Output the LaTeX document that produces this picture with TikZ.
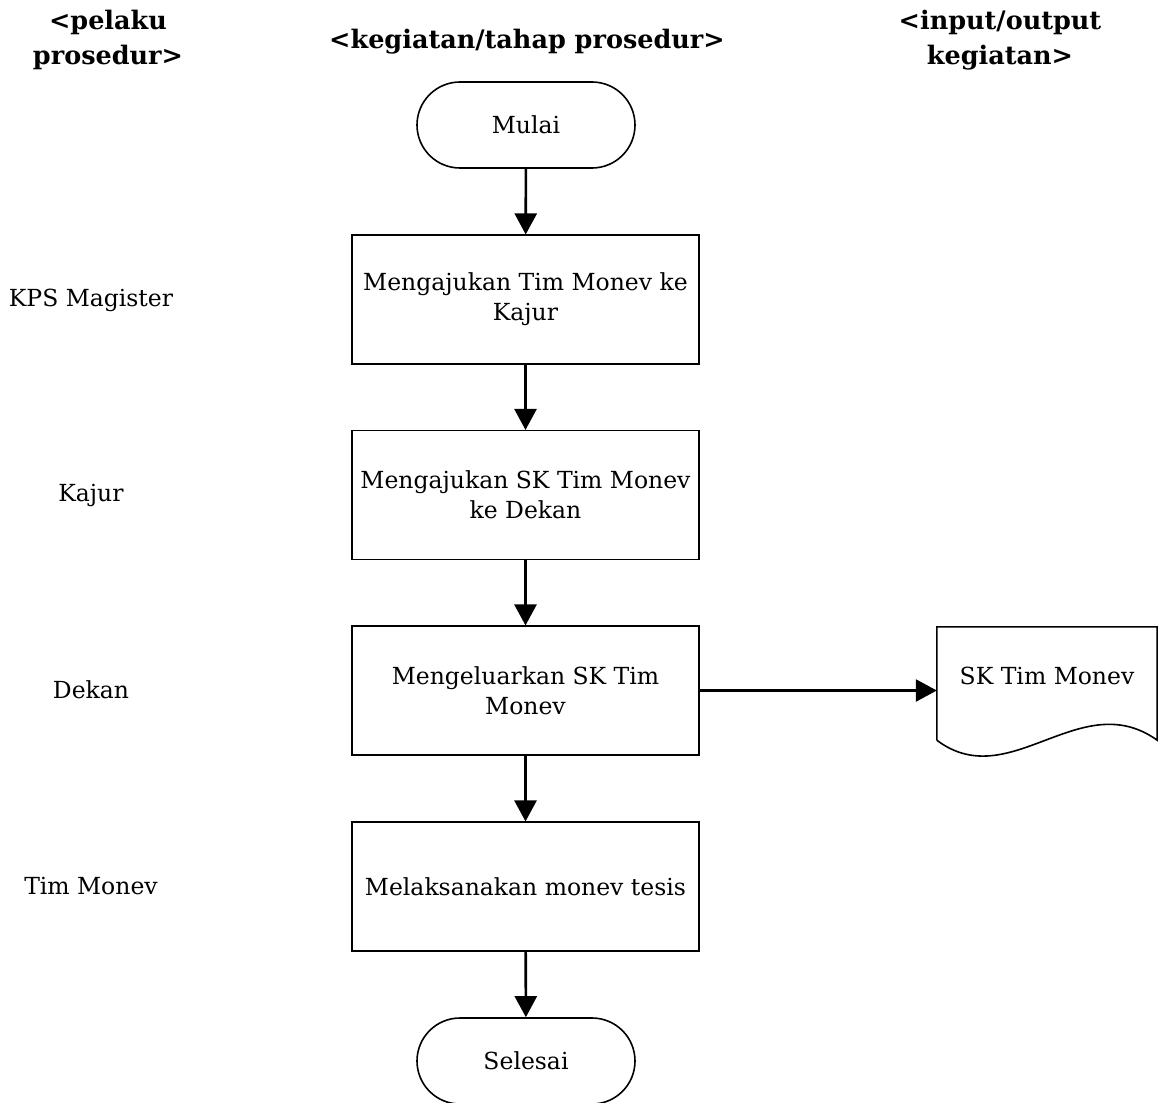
\documentclass[tikz,border=0pt]{standalone}
\usepackage{fontspec}
\setmainfont{DejaVu Serif}
\usetikzlibrary{arrows.meta}
\begin{document}
\begin{tikzpicture}[x=1pt,y=-1pt,
  every node/.style={font=\fontsize{23.5}{30}\selectfont, align=center, inner sep=0pt},
  hdr/.style={font=\fontsize{25.5}{35}\selectfont\bfseries},
  actor/.style={},
  proc/.style={draw, line width=1.1pt, minimum width=347pt, minimum height=129pt},
  term/.style={draw, line width=1.6pt, rounded corners=43pt, minimum width=218pt, minimum height=86pt},
  docshape/.style={minimum width=220pt, minimum height=113pt},
  flow/.style={line width=2.6pt, -{Triangle[length=21pt,width=22pt]}}
]
\useasboundingbox (0,0) rectangle (1158,1102);

\node[hdr] (h1) at (108,40) {<pelaku\\prosedur>};
\node[hdr] (h2) at (527,42) {<kegiatan/tahap prosedur>};
\node[hdr] (h3) at (1000,40) {<input/output\\kegiatan>};

\node[term] (start) at (526,125) {Mulai};
\node[proc] (b1) at (525.5,299.5) {Mengajukan Tim Monev ke\\Kajur};
\node[proc] (b2) at (525.5,495) {Mengajukan SK Tim Monev\\ke Dekan};
\node[proc] (b3) at (525.5,690.5) {Mengeluarkan SK Tim\\Monev};
\node[proc] (b4) at (525.5,886.5) {Melaksanakan monev tesis};
\node[term] (end) at (526,1061) {Selesai};

\node[docshape] (doc) at (1047,683.5) {};
\draw[line width=1.6pt] (doc.south west) -- (doc.north west) -- (doc.north east) -- (doc.south east)
  .. controls ++(-77,-55) and ++(73,55) .. (doc.south west);
\node (doct) at (1047,676) {SK Tim Monev};

\node[actor] (a1) at (91,300) {KPS Magister};
\node[actor] (a2) at (91,495) {Kajur};
\node[actor] (a3) at (91,690) {Dekan};
\node[actor] (a4) at (91,886) {Tim Monev};

\draw[flow] (start) -- (b1);
\draw[flow] (b1) -- (b2);
\draw[flow] (b2) -- (b3);
\draw[flow] (b3) -- (b4);
\draw[flow] (b4) -- (end);
\draw[flow] (b3.east) -- (b3.east -| doc.west);
\end{tikzpicture}
\end{document}
